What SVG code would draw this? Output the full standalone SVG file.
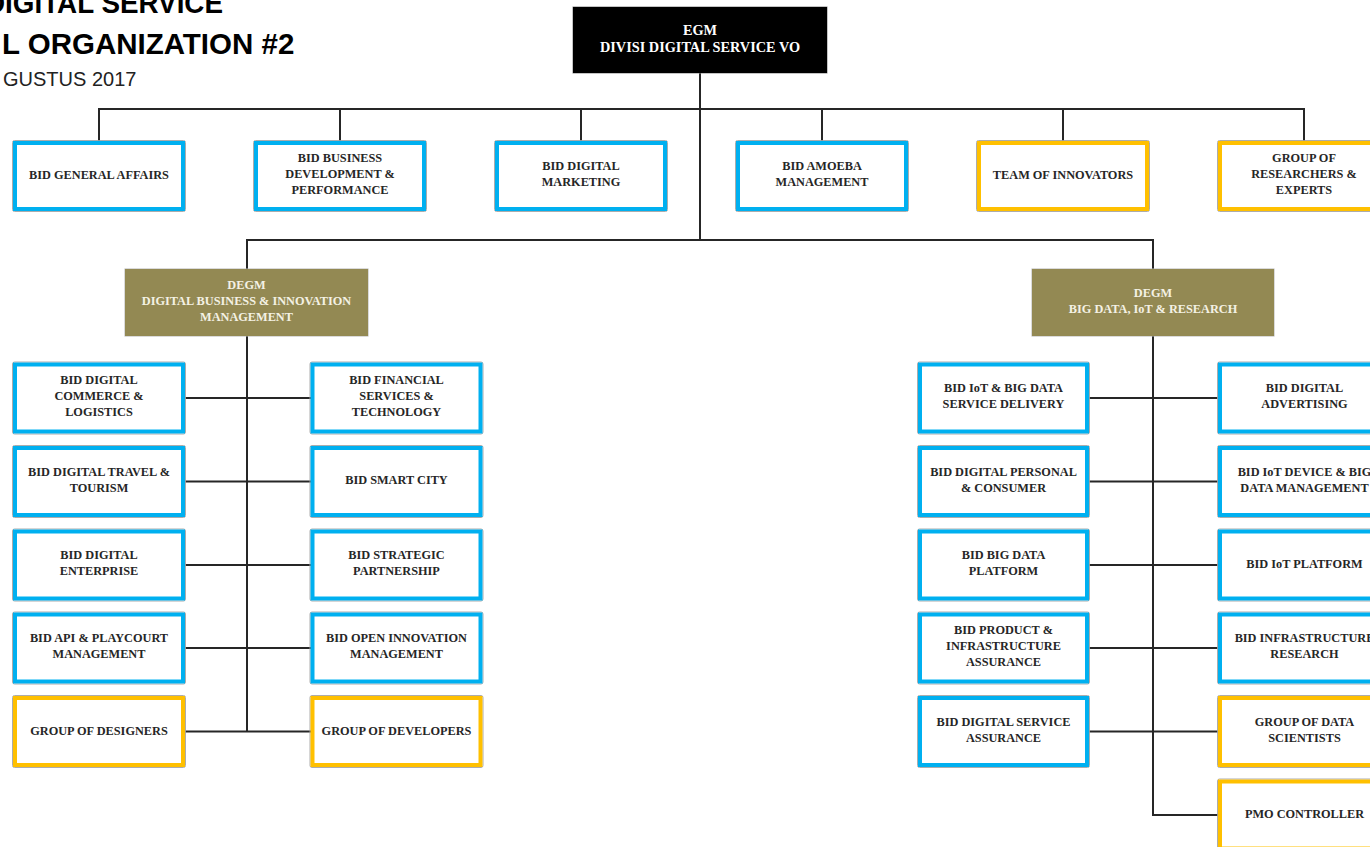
<svg xmlns="http://www.w3.org/2000/svg" width="1370" height="847" viewBox="0 0 1370 847">
<style>
.bg{fill:#fff}
.o{fill:none;stroke:#a3a3a3;stroke-width:0.9}
.b{fill:#fff;stroke:#00b0f0;stroke-width:4}
.y{fill:#fff;stroke:#ffc000;stroke-width:4}
.t{font-family:"Liberation Serif","Times New Roman",serif;font-weight:bold;font-size:12.3px;fill:#262626;text-anchor:middle}
.w{font-family:"Liberation Serif","Times New Roman",serif;font-weight:bold;font-size:12.3px;fill:#f4f1e4;text-anchor:middle}
.e{font-family:"Liberation Serif","Times New Roman",serif;font-weight:bold;font-size:14.3px;fill:#ffffff;text-anchor:middle}
.c{fill:none;stroke:#262626;stroke-width:2}
.h1{font-family:"Liberation Sans",Arial,sans-serif;font-weight:bold;font-size:29.5px;fill:#000}
.h2{font-family:"Liberation Sans",Arial,sans-serif;font-size:20px;fill:#222}
</style>
<rect class="bg" x="0" y="0" width="1370" height="847"/>
<g id="title">
<text class="h1" x="-15" y="13" textLength="238" lengthAdjust="spacingAndGlyphs">DIGITAL SERVICE</text>
<text class="h1" x="2" y="54">L ORGANIZATION #2</text>
<text class="h2" x="3" y="86">GUSTUS 2017</text>
</g>
<g id="connectors">
<path class="c" d="M700,73 V240 M99,141 V109 H1304 V141 M340,109 V141 M581,109 V141 M822,109 V141 M1063,109 V141"/>
<path class="c" d="M247,269 V240 H1153 V269"/>
<path class="c" d="M247,336 V731.5 M182,398 H312.5 M182,481.5 H312.5 M182,565 H312.5 M182,648 H312.5 M182,731.5 H312.5"/>
<path class="c" d="M1153,336 V815 H1220 M1087,398 H1220 M1087,481.5 H1220 M1087,565 H1220 M1087,648 H1220 M1087,731.5 H1220"/>
</g>
<g id="egm">
<rect x="572.5" y="6.5" width="255" height="67" fill="#888"/>
<rect x="573" y="7" width="254" height="66" fill="#000"/>
<text class="e" x="700" y="35">EGM</text>
<text class="e" x="700" y="52">DIVISI DIGITAL SERVICE VO</text>
</g>
<g id="top1"><rect class="o" x="12.5" y="140.5" width="173" height="71" rx="2"/><rect class="b" x="15" y="143" width="168" height="66"/><text class="t" x="99" y="179">BID GENERAL AFFAIRS</text></g>
<g id="top2"><rect class="o" x="253.5" y="140.5" width="173" height="71" rx="2"/><rect class="b" x="256" y="143" width="168" height="66"/><text class="t" x="340" y="162">BID BUSINESS</text><text class="t" x="340" y="178">DEVELOPMENT &amp;</text><text class="t" x="340" y="194">PERFORMANCE</text></g>
<g id="top3"><rect class="o" x="494.5" y="140.5" width="173" height="71" rx="2"/><rect class="b" x="497" y="143" width="168" height="66"/><text class="t" x="581" y="170">BID DIGITAL</text><text class="t" x="581" y="186">MARKETING</text></g>
<g id="top4"><rect class="o" x="735.5" y="140.5" width="173" height="71" rx="2"/><rect class="b" x="738" y="143" width="168" height="66"/><text class="t" x="822" y="170">BID AMOEBA</text><text class="t" x="822" y="186">MANAGEMENT</text></g>
<g id="top5"><rect class="o" x="976.5" y="140.5" width="173" height="71" rx="2"/><rect class="y" x="979" y="143" width="168" height="66"/><text class="t" x="1063" y="179">TEAM OF INNOVATORS</text></g>
<g id="top6"><rect class="o" x="1217.5" y="140.5" width="173" height="71" rx="2"/><rect class="y" x="1220" y="143" width="168" height="66"/><text class="t" x="1304" y="162">GROUP OF</text><text class="t" x="1304" y="178">RESEARCHERS &amp;</text><text class="t" x="1304" y="194">EXPERTS</text></g>
<g id="degm1">
<rect x="124.5" y="268.5" width="244" height="68" fill="#b5b5b5"/>
<rect x="125" y="269" width="243" height="67" fill="#938953"/>
<text class="w" x="246.5" y="289">DEGM</text>
<text class="w" x="246.5" y="305">DIGITAL BUSINESS &amp; INNOVATION</text>
<text class="w" x="246.5" y="321">MANAGEMENT</text>
</g>
<g id="degm2">
<rect x="1031.5" y="268.5" width="243" height="68" fill="#b5b5b5"/>
<rect x="1032" y="269" width="242" height="67" fill="#938953"/>
<text class="w" x="1153" y="297">DEGM</text>
<text class="w" x="1153" y="313">BIG DATA, IoT &amp; RESEARCH</text>
</g>
<g id="l1"><rect class="o" x="12.5" y="362" width="173" height="72" rx="2"/><rect class="b" x="15" y="364.5" width="168" height="67"/><text class="t" x="99" y="384">BID DIGITAL</text><text class="t" x="99" y="400">COMMERCE &amp;</text><text class="t" x="99" y="416">LOGISTICS</text></g>
<g id="l2"><rect class="o" x="12.5" y="445.5" width="173" height="72" rx="2"/><rect class="b" x="15" y="448" width="168" height="67"/><text class="t" x="99" y="475.5">BID DIGITAL TRAVEL &amp;</text><text class="t" x="99" y="491.5">TOURISM</text></g>
<g id="l3"><rect class="o" x="12.5" y="529" width="173" height="72" rx="2"/><rect class="b" x="15" y="531.5" width="168" height="67"/><text class="t" x="99" y="559">BID DIGITAL</text><text class="t" x="99" y="575">ENTERPRISE</text></g>
<g id="l4"><rect class="o" x="12.5" y="612" width="173" height="72" rx="2"/><rect class="b" x="15" y="614.5" width="168" height="67"/><text class="t" x="99" y="642">BID API &amp; PLAYCOURT</text><text class="t" x="99" y="658">MANAGEMENT</text></g>
<g id="l5"><rect class="o" x="12.5" y="695.5" width="173" height="72" rx="2"/><rect class="y" x="15" y="698" width="168" height="67"/><text class="t" x="99" y="734.5">GROUP OF DESIGNERS</text></g>
<g id="r1"><rect class="o" x="310" y="362" width="173" height="72" rx="2"/><rect class="b" x="312.5" y="364.5" width="168" height="67"/><text class="t" x="396.5" y="384">BID FINANCIAL</text><text class="t" x="396.5" y="400">SERVICES &amp;</text><text class="t" x="396.5" y="416">TECHNOLOGY</text></g>
<g id="r2"><rect class="o" x="310" y="445.5" width="173" height="72" rx="2"/><rect class="b" x="312.5" y="448" width="168" height="67"/><text class="t" x="396.5" y="484">BID SMART CITY</text></g>
<g id="r3"><rect class="o" x="310" y="529" width="173" height="72" rx="2"/><rect class="b" x="312.5" y="531.5" width="168" height="67"/><text class="t" x="396.5" y="559">BID STRATEGIC</text><text class="t" x="396.5" y="575">PARTNERSHIP</text></g>
<g id="r4"><rect class="o" x="310" y="612" width="173" height="72" rx="2"/><rect class="b" x="312.5" y="614.5" width="168" height="67"/><text class="t" x="396.5" y="642">BID OPEN INNOVATION</text><text class="t" x="396.5" y="658">MANAGEMENT</text></g>
<g id="r5"><rect class="o" x="310" y="695.5" width="173" height="72" rx="2"/><rect class="y" x="312.5" y="698" width="168" height="67"/><text class="t" x="396.5" y="734.5">GROUP OF DEVELOPERS</text></g>
<g id="bl1"><rect class="o" x="917.5" y="362" width="172" height="72" rx="2"/><rect class="b" x="920" y="364.5" width="167" height="67"/><text class="t" x="1003.5" y="392">BID IoT &amp; BIG DATA</text><text class="t" x="1003.5" y="408">SERVICE DELIVERY</text></g>
<g id="bl2"><rect class="o" x="917.5" y="445.5" width="172" height="72" rx="2"/><rect class="b" x="920" y="448" width="167" height="67"/><text class="t" x="1003.5" y="475.5">BID DIGITAL PERSONAL</text><text class="t" x="1003.5" y="491.5">&amp; CONSUMER</text></g>
<g id="bl3"><rect class="o" x="917.5" y="529" width="172" height="72" rx="2"/><rect class="b" x="920" y="531.5" width="167" height="67"/><text class="t" x="1003.5" y="559">BID BIG DATA</text><text class="t" x="1003.5" y="575">PLATFORM</text></g>
<g id="bl4"><rect class="o" x="917.5" y="612" width="172" height="72" rx="2"/><rect class="b" x="920" y="614.5" width="167" height="67"/><text class="t" x="1003.5" y="634">BID PRODUCT &amp;</text><text class="t" x="1003.5" y="650">INFRASTRUCTURE</text><text class="t" x="1003.5" y="666">ASSURANCE</text></g>
<g id="bl5"><rect class="o" x="917.5" y="695.5" width="172" height="72" rx="2"/><rect class="b" x="920" y="698" width="167" height="67"/><text class="t" x="1003.5" y="725.5">BID DIGITAL SERVICE</text><text class="t" x="1003.5" y="741.5">ASSURANCE</text></g>
<g id="br1"><rect class="o" x="1217.5" y="362" width="173" height="72" rx="2"/><rect class="b" x="1220" y="364.5" width="168" height="67"/><text class="t" x="1304.5" y="392">BID DIGITAL</text><text class="t" x="1304.5" y="408">ADVERTISING</text></g>
<g id="br2"><rect class="o" x="1217.5" y="445.5" width="173" height="72" rx="2"/><rect class="b" x="1220" y="448" width="168" height="67"/><text class="t" x="1304.5" y="475.5">BID IoT DEVICE &amp; BIG</text><text class="t" x="1304.5" y="491.5">DATA MANAGEMENT</text></g>
<g id="br3"><rect class="o" x="1217.5" y="529" width="173" height="72" rx="2"/><rect class="b" x="1220" y="531.5" width="168" height="67"/><text class="t" x="1304.5" y="568">BID IoT PLATFORM</text></g>
<g id="br4"><rect class="o" x="1217.5" y="612" width="173" height="72" rx="2"/><rect class="b" x="1220" y="614.5" width="168" height="67"/><text class="t" x="1304.5" y="642">BID INFRASTRUCTURE</text><text class="t" x="1304.5" y="658">RESEARCH</text></g>
<g id="br5"><rect class="o" x="1217.5" y="695.5" width="173" height="72" rx="2"/><rect class="y" x="1220" y="698" width="168" height="67"/><text class="t" x="1304.5" y="725.5">GROUP OF DATA</text><text class="t" x="1304.5" y="741.5">SCIENTISTS</text></g>
<g id="br6"><rect class="o" x="1217.5" y="779" width="173" height="72" rx="2"/><rect class="y" x="1220" y="781.5" width="168" height="67"/><text class="t" x="1304.5" y="818">PMO CONTROLLER</text></g>
</svg>
